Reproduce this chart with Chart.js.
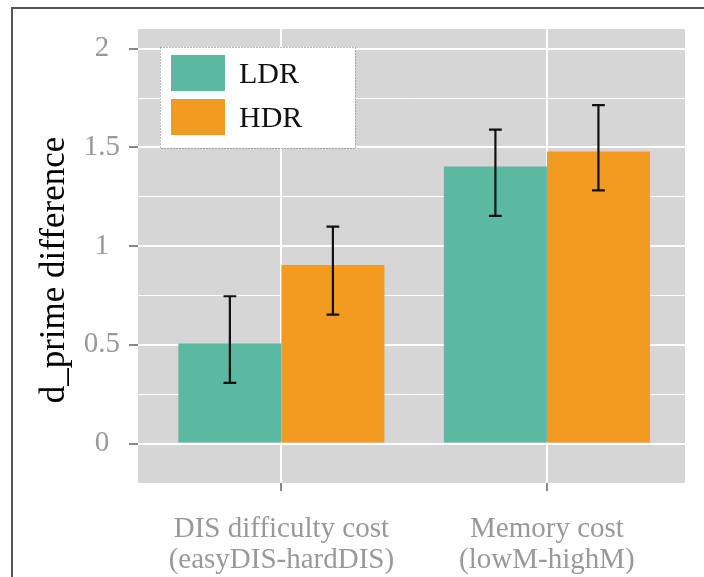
<!DOCTYPE html>
<html>
<head>
<meta charset="utf-8">
<script src="https://cdn.jsdelivr.net/npm/chart.js@4.4.0/dist/chart.umd.min.js"></script>
<style>
  html, body { margin: 0; padding: 0; background: #fff; }
  #frame { position: absolute; left: 11px; top: 7px; width: 700px; height: 580px;
           border-left: 2px solid #555; border-top: 2px solid #555; }
  #chart { position: absolute; left: 0; top: 0; }
</style>
</head>
<body>
<div id="frame"></div>
<canvas id="chart" width="704" height="577"></canvas>
<script>
const categories = [['DIS difficulty cost', '(easyDIS-hardDIS)'], ['Memory cost', '(lowM-highM)']];
const categoryPos = [1, 2];
const seriesNames = ['LDR', 'HDR'];
const ldrMeans = [0.507, 1.404];
const ldrLower = [0.307, 1.153];
const ldrUpper = [0.746, 1.590];
const hdrMeans = [0.905, 1.480];
const hdrLower = [0.653, 1.282];
const hdrUpper = [1.099, 1.714];
const yMajorTicks = [0, 0.5, 1, 1.5, 2];
const yMinorTicks = [0.25, 0.75, 1.25, 1.75];
const yTitle = 'd_prime difference';

const serif = '"Liberation Serif", "Times New Roman", serif';
const colors = ['#5ab9a0', '#f39a21'];

function toPoints(values) {
    return values.map((v, i) => ({ x: categoryPos[i], y: v }));
}

const panelBackground = {
    id: 'panelBackground',
    beforeDraw(chart) {
        const { ctx, chartArea: a } = chart;
        ctx.save();
        ctx.fillStyle = '#d6d6d6';
        ctx.fillRect(a.left, a.top, a.right - a.left, a.bottom - a.top);
        ctx.restore();
    }
};

// y axis title, drawn a little below the panel centre as in the original
const axisTitle = {
    id: 'axisTitle',
    afterDraw(chart) {
        const { ctx, chartArea: a } = chart;
        ctx.save();
        ctx.translate(a.left - 83, (a.top + a.bottom) / 2 + 14);
        ctx.rotate(-Math.PI / 2);
        ctx.font = '35px ' + serif;
        ctx.fillStyle = '#000';
        ctx.textAlign = 'center';
        ctx.textBaseline = 'middle';
        ctx.fillText(yTitle, 0, 0);
        ctx.restore();
    }
};

const errorBars = {
    id: 'errorBars',
    afterDatasetsDraw(chart) {
        const { ctx } = chart;
        const y = chart.scales.y;
        chart.data.datasets.forEach((ds, i) => {
            const meta = chart.getDatasetMeta(i);
            meta.data.forEach((bar, j) => {
                const top = y.getPixelForValue(ds.upper[j]);
                const bottom = y.getPixelForValue(ds.lower[j]);
                const half = bar.width * 0.062;
                ctx.save();
                ctx.strokeStyle = '#111';
                ctx.lineWidth = 2.2;
                ctx.beginPath();
                ctx.moveTo(bar.x, top);
                ctx.lineTo(bar.x, bottom);
                ctx.moveTo(bar.x - half, top);
                ctx.lineTo(bar.x + half, top);
                ctx.moveTo(bar.x - half, bottom);
                ctx.lineTo(bar.x + half, bottom);
                ctx.stroke();
                ctx.restore();
            });
        });
    }
};

const boxLegend = {
    id: 'boxLegend',
    afterDraw(chart) {
        const { ctx, chartArea: a } = chart;
        const left = a.left + 22, top = a.top + 18;
        ctx.save();
        ctx.fillStyle = '#fff';
        ctx.fillRect(left, top, 195, 101);
        ctx.strokeStyle = '#777';
        ctx.lineWidth = 1;
        ctx.setLineDash([1, 2]);
        ctx.strokeRect(left + 0.5, top + 0.5, 195, 101);
        ctx.setLineDash([]);
        ctx.font = '30px ' + serif;
        ctx.textBaseline = 'middle';
        chart.data.datasets.forEach((ds, i) => {
            const sy = top + 8 + i * 44;
            ctx.fillStyle = ds.backgroundColor;
            ctx.fillRect(left + 11, sy, 54, 36);
            ctx.fillStyle = '#111';
            ctx.fillText(ds.label, left + 79, sy + 20);
        });
        ctx.restore();
    }
};

new Chart(document.getElementById('chart'), {
    type: 'bar',
    data: {
        datasets: [
            { label: seriesNames[0], data: toPoints(ldrMeans), lower: ldrLower, upper: ldrUpper,
              backgroundColor: colors[0] },
            { label: seriesNames[1], data: toPoints(hdrMeans), lower: hdrLower, upper: hdrUpper,
              backgroundColor: colors[1] }
        ]
    },
    options: {
        responsive: false,
        animation: false,
        categoryPercentage: 0.776,
        barPercentage: 1,
        layout: { padding: { left: 0, top: 29, right: 19, bottom: 0 } },
        plugins: {
            legend: { display: false },
            tooltip: { enabled: false }
        },
        scales: {
            x: {
                type: 'linear',
                min: 0.46,
                max: 2.52,
                offset: false,
                afterBuildTicks(scale) {
                    scale.ticks = categoryPos.map(v => ({ value: v }));
                },
                afterFit(scale) { scale.height = 94; },
                border: { display: false },
                grid: { offset: false, color: '#fff', lineWidth: 2, tickColor: '#888', tickLength: 8 },
                ticks: {
                    autoSkip: false,
                    maxRotation: 0,
                    padding: 23,
                    color: '#999',
                    font: { family: serif, size: 29, lineHeight: 1.07 },
                    callback: (v) => categories[categoryPos.indexOf(v)]
                }
            },
            y: {
                min: -0.2,
                max: 2.1,
                afterBuildTicks(scale) {
                    scale.ticks = yMinorTicks.concat(yMajorTicks).sort((a, b) => a - b).map(v => ({ value: v }));
                },
                afterFit(scale) { scale.width = 138; },
                border: { display: false },
                grid: {
                    color: '#fff',
                    lineWidth: (c) => yMajorTicks.includes(c.tick.value) ? 2 : 1,
                    tickColor: (c) => yMajorTicks.includes(c.tick.value) ? '#888' : 'rgba(0,0,0,0)',
                    tickLength: 9
                },
                ticks: {
                    crossAlign: 'center',
                    padding: 9,
                    color: '#999',
                    font: { family: serif, size: 29 },
                    callback: (v) => yMajorTicks.includes(v) ? String(v) : ''
                }
            }
        }
    },
    plugins: [panelBackground, axisTitle, errorBars, boxLegend]
});
</script>
</body>
</html>
